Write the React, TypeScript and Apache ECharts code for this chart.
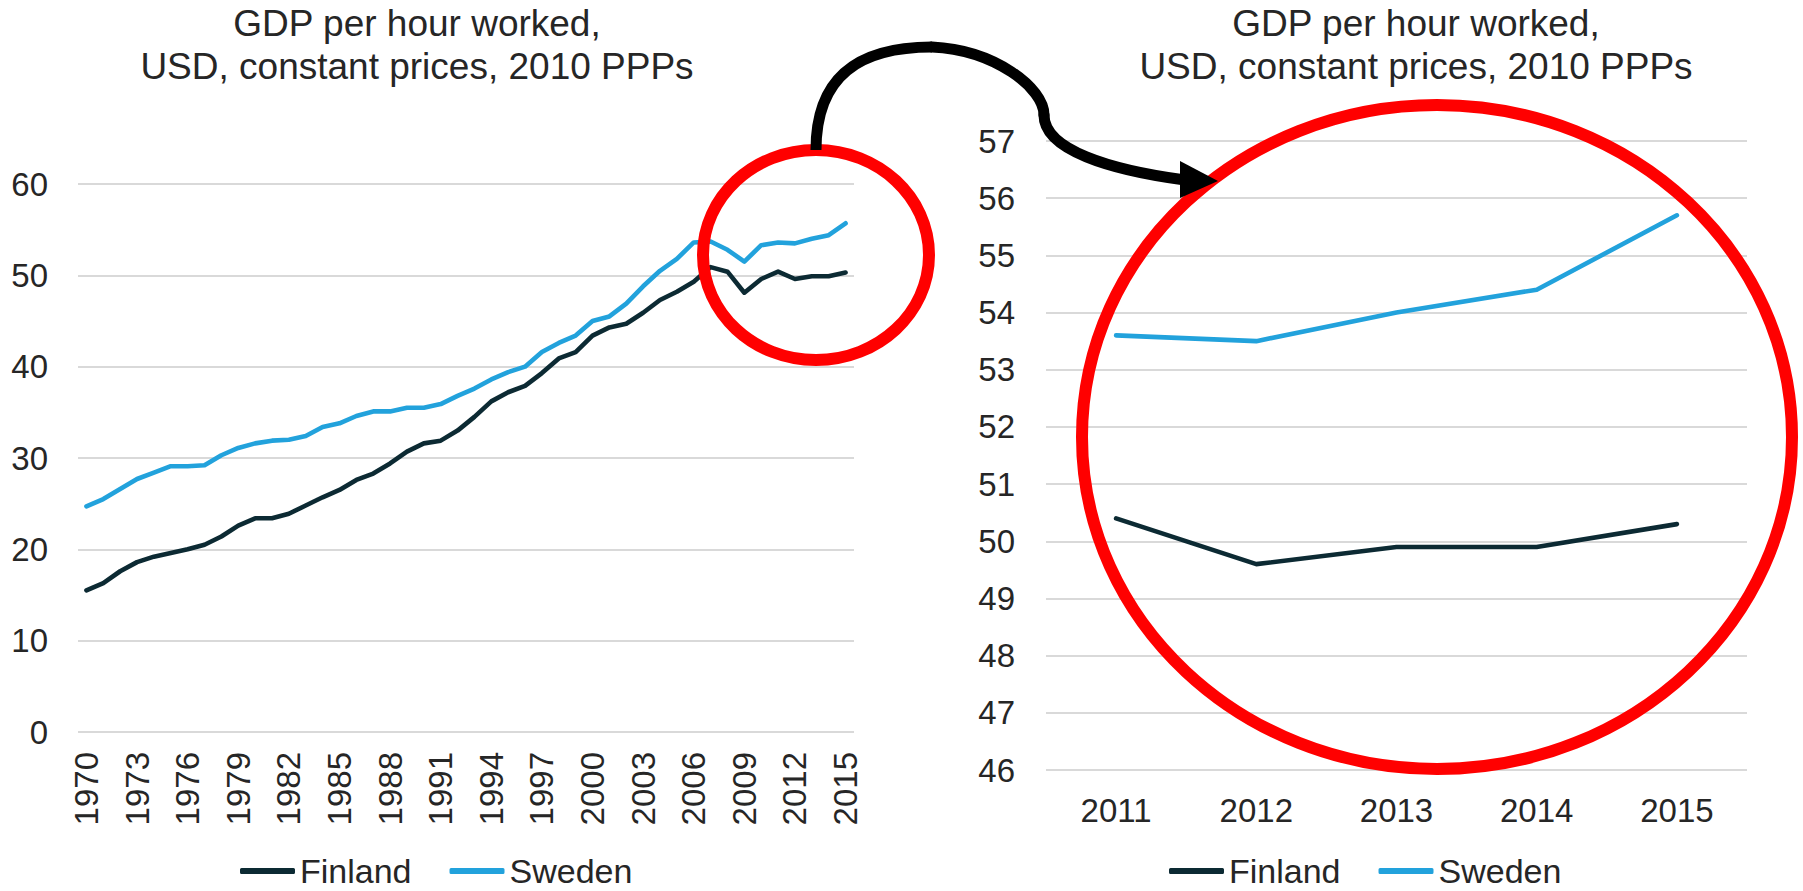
import React, { useEffect, useRef } from "react";
import * as echarts from "echarts";

const years = [
  "1970", "1971", "1972", "1973", "1974", "1975", "1976", "1977", "1978", "1979",
  "1980", "1981", "1982", "1983", "1984", "1985", "1986", "1987", "1988", "1989",
  "1990", "1991", "1992", "1993", "1994", "1995", "1996", "1997", "1998", "1999",
  "2000", "2001", "2002", "2003", "2004", "2005", "2006", "2007", "2008", "2009",
  "2010", "2011", "2012", "2013", "2014", "2015",
];

const finland = [
  15.5, 16.3, 17.6, 18.6, 19.2, 19.6, 20.0, 20.5, 21.4, 22.6,
  23.4, 23.4, 23.9, 24.8, 25.7, 26.5, 27.6, 28.3, 29.4, 30.7,
  31.6, 31.9, 33.0, 34.5, 36.2, 37.2, 37.9, 39.3, 40.9, 41.6,
  43.4, 44.3, 44.7, 45.9, 47.3, 48.2, 49.3, 50.9, 50.4, 48.1,
  49.6, 50.4, 49.6, 49.9, 49.9, 50.3,
];

const sweden = [
  24.7, 25.5, 26.6, 27.7, 28.4, 29.1, 29.1, 29.2, 30.3, 31.1,
  31.6, 31.9, 32.0, 32.4, 33.4, 33.8, 34.6, 35.1, 35.1, 35.5,
  35.5, 35.9, 36.8, 37.6, 38.6, 39.4, 40.0, 41.6, 42.6, 43.4,
  45.0, 45.5, 46.9, 48.8, 50.5, 51.8, 53.6, 53.7, 52.8, 51.5,
  53.3, 53.6, 53.5, 54.0, 54.4, 55.7,
];

const zoomYears = ["2011", "2012", "2013", "2014", "2015"];
const finlandZoom = [50.4, 49.6, 49.9, 49.9, 50.3];
const swedenZoom = [53.6, 53.5, 54.0, 54.4, 55.7];

const titleText = "GDP per hour worked,\nUSD, constant prices, 2010 PPPs";

const FONT = "'Liberation Sans', Arial, sans-serif";
const TEXT = "#262626";
const FIN = "#0C2A33";
const SWE = "#22A2DC";
const GRID = "#D9D9D9";
const RED = "#FF0000";

export default function App() {
  const ref = useRef<HTMLDivElement>(null);

  useEffect(() => {
    if (!ref.current) return;
    const chart = echarts.init(ref.current, null, { renderer: "svg" });

    const axisLabel = { fontSize: 33, color: TEXT, fontFamily: FONT };
    const legendBase = {
      orient: "horizontal",
      padding: 0,
      itemWidth: 55,
      itemHeight: 6,
      itemGap: 38,
      icon: "roundRect",
      textStyle: { fontSize: 34, lineHeight: 30, color: TEXT, fontFamily: FONT, padding: [0, 0, 0, 0] },
      data: ["Finland", "Sweden"],
      selectedMode: false,
    };
    const lineSeries = (name: string, color: string, data: number[], idx: number) => ({
      name,
      type: "line",
      xAxisIndex: idx,
      yAxisIndex: idx,
      data,
      symbol: "none",
      color,
      lineStyle: { color, width: 4.6, cap: "round", join: "round" },
      z: 3,
    });

    chart.setOption({
      animation: false,
      backgroundColor: "#ffffff",
      title: [
        {
          text: titleText,
          left: 417,
          top: 2,
          textAlign: "center",
          padding: 0,
          textStyle: { fontSize: 37, fontWeight: "normal", color: TEXT, fontFamily: FONT, lineHeight: 43 },
        },
        {
          text: titleText,
          left: 1416,
          top: 2,
          textAlign: "center",
          padding: 0,
          textStyle: { fontSize: 37, fontWeight: "normal", color: TEXT, fontFamily: FONT, lineHeight: 43 },
        },
      ],
      legend: [
        { ...legendBase, left: 240, top: 854 },
        { ...legendBase, left: 1169, top: 854 },
      ],
      grid: [
        { left: 78, top: 184, width: 776, height: 548, containLabel: false },
        { left: 1046, top: 141, width: 701, height: 629, containLabel: false },
      ],
      xAxis: [
        {
          type: "category",
          gridIndex: 0,
          data: years,
          boundaryGap: true,
          axisLine: { show: false },
          axisTick: { show: false },
          axisLabel: { ...axisLabel, rotate: 90, interval: 2, margin: 20 },
        },
        {
          type: "category",
          gridIndex: 1,
          data: zoomYears,
          boundaryGap: true,
          axisLine: { show: false },
          axisTick: { show: false },
          axisLabel: { ...axisLabel, margin: 24 },
        },
      ],
      yAxis: [
        {
          type: "value",
          gridIndex: 0,
          min: 0,
          max: 60,
          interval: 10,
          axisLine: { show: false },
          axisTick: { show: false },
          axisLabel: { ...axisLabel, margin: 30 },
          splitLine: { lineStyle: { color: GRID, width: 2 } },
        },
        {
          type: "value",
          gridIndex: 1,
          min: 46,
          max: 57,
          interval: 1,
          axisLine: { show: false },
          axisTick: { show: false },
          axisLabel: { ...axisLabel, margin: 31 },
          splitLine: { lineStyle: { color: GRID, width: 2 } },
        },
      ],
      series: [
        lineSeries("Finland", FIN, finland, 0),
        lineSeries("Sweden", SWE, sweden, 0),
        lineSeries("Finland", FIN, finlandZoom, 1),
        lineSeries("Sweden", SWE, swedenZoom, 1),
      ],
      graphic: [
        {
          type: "ellipse",
          z: 100,
          shape: { cx: 816, cy: 255, rx: 113, ry: 105 },
          style: { fill: "none", stroke: RED, lineWidth: 12 },
        },
        {
          type: "ellipse",
          z: 100,
          shape: { cx: 1437, cy: 437, rx: 355, ry: 332 },
          style: { fill: "none", stroke: RED, lineWidth: 12 },
        },
        {
          type: "bezierCurve",
          z: 101,
          shape: { x1: 816, y1: 150, cpx1: 816, cpy1: 75, cpx2: 860, cpy2: 47, x2: 932, y2: 47 },
          style: { fill: "none", stroke: "#000", lineWidth: 11, lineCap: "butt" },
        },
        {
          type: "bezierCurve",
          z: 101,
          shape: { x1: 932, y1: 47, cpx1: 995, cpy1: 50, cpx2: 1044, cpy2: 88, x2: 1044, y2: 115 },
          style: { fill: "none", stroke: "#000", lineWidth: 11, lineCap: "round" },
        },
        {
          type: "bezierCurve",
          z: 101,
          shape: { x1: 1044, y1: 115, cpx1: 1044, cpy1: 150, cpx2: 1110, cpy2: 170, x2: 1185, y2: 180 },
          style: { fill: "none", stroke: "#000", lineWidth: 11, lineCap: "round" },
        },
        {
          type: "polygon",
          z: 102,
          shape: { points: [[1180, 161], [1218, 181], [1180, 198]] },
          style: { fill: "#000" },
        },
      ],
    });

    return () => chart.dispose();
  }, []);

  return (
    <div
      ref={ref}
      style={{ position: "fixed", left: 0, top: 0, width: 1803, height: 891, background: "#fff" }}
    />
  );
}
